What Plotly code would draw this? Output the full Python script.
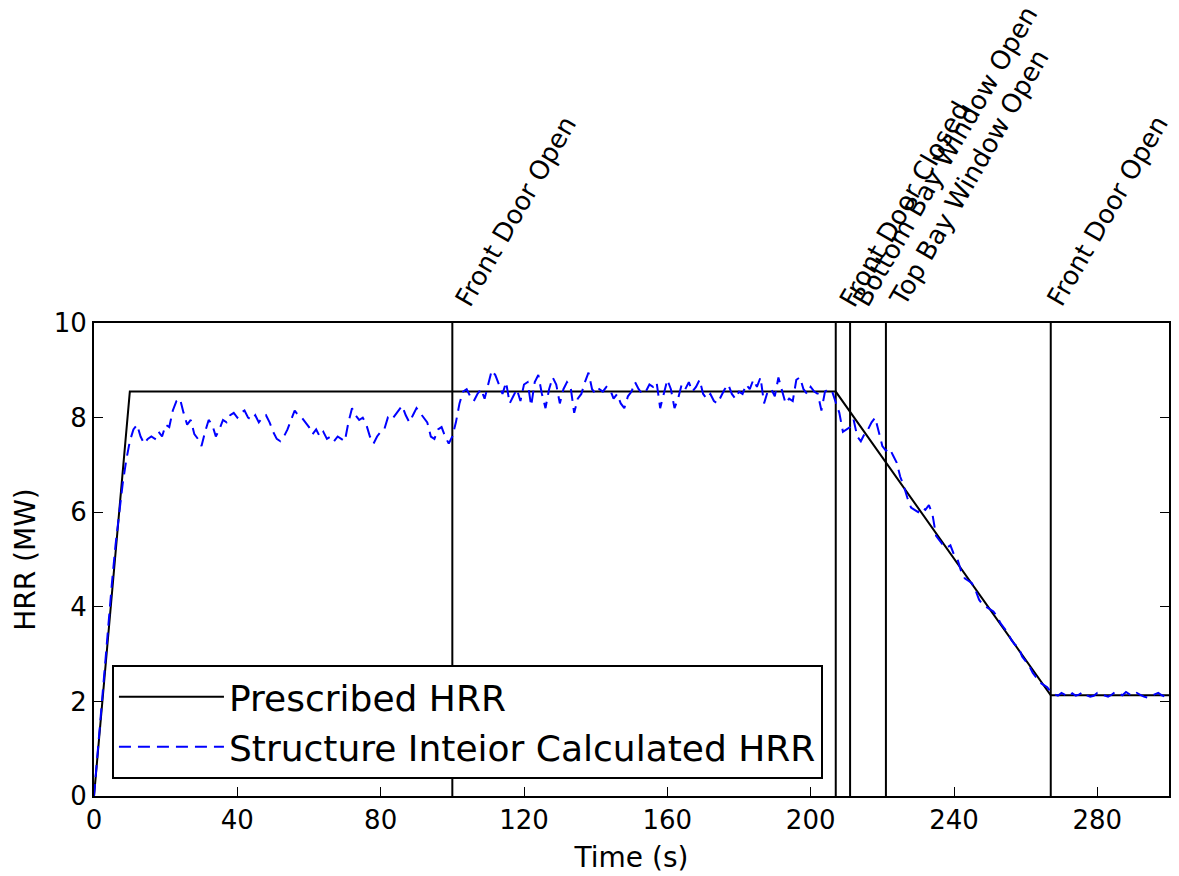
import plotly.graph_objects as go

# Prescribed HRR (piecewise linear)
presc_t = [0, 10, 207, 267, 300]
presc_hrr = [0.0, 8.55, 8.55, 2.13, 2.13]

# Calculated HRR, 1 s sampling
calc_t = list(range(0, 301))
calc_hrr = [
    0.0, 0.9, 1.8, 2.8, 3.7, 4.5, 5.3, 6.0, 6.6, 7.1,
    7.5, 7.75, 7.85, 7.6, 7.45, 7.55, 7.6, 7.55, 7.7, 7.6,
    7.85, 7.8, 8.15, 8.35, 8.4, 8.1, 7.85, 7.95, 7.65, 7.55,
    7.4, 7.7, 7.95, 7.85, 7.6, 7.75, 7.95, 7.9, 8.05, 8.1,
    8.0, 8.1, 8.15, 8.0, 7.95, 8.05, 7.9, 8.0, 8.05, 7.9,
    7.7, 7.55, 7.5, 7.6, 7.75, 7.95, 8.15, 8.05, 8.0, 7.9,
    7.8, 7.65, 7.75, 7.6, 7.7, 7.55, 7.6, 7.5, 7.6, 7.55,
    7.5, 7.9, 8.2, 8.05, 7.95, 8.0, 7.85, 7.6, 7.45, 7.6,
    7.7, 7.75, 8.0, 7.95, 8.05, 8.15, 8.25, 8.05, 7.9, 8.05,
    8.2, 8.1, 8.0, 7.9, 7.6, 7.55, 7.75, 7.8, 7.6, 7.45,
    7.6, 7.9, 8.3, 8.55, 8.6, 8.45, 8.35, 8.5, 8.6, 8.4,
    8.7, 9.0, 8.9, 8.7, 8.5, 8.75, 8.3, 8.45, 8.6, 8.35,
    8.7, 8.75, 8.25, 8.75, 8.9, 8.5, 8.2, 8.6, 8.85, 8.7,
    8.3, 8.6, 8.75, 8.65, 8.1, 8.4, 8.5, 8.75, 8.95, 8.6,
    8.5, 8.6, 8.55, 8.65, 8.6, 8.4, 8.5, 8.3, 8.2, 8.45,
    8.55, 8.75, 8.6, 8.5, 8.55, 8.7, 8.65, 8.75, 8.2, 8.5,
    8.8, 8.6, 8.2, 8.4, 8.7, 8.6, 8.75, 8.55, 8.65, 8.8,
    8.5, 8.4, 8.5, 8.35, 8.3, 8.45, 8.6, 8.7, 8.5, 8.4,
    8.55, 8.5, 8.7, 8.6, 8.8, 8.65, 8.85, 8.3, 8.55, 8.6,
    8.45, 8.85, 8.6, 8.3, 8.4, 8.35, 8.8, 8.85, 8.6, 8.5,
    8.65, 8.55, 8.5, 8.15, 8.55, 8.6, 8.55, 8.3, 8.1, 7.7,
    7.75, 7.8, 7.95, 7.6, 7.5, 7.65, 7.75, 7.9, 8.0, 7.7,
    7.4, 7.3, 7.35, 7.2, 7.05, 6.75, 6.55, 6.3, 6.1, 6.05,
    6.0, 6.1, 6.05, 6.15, 5.95, 5.5, 5.4, 5.3, 5.25, 5.3,
    5.1, 5.0, 4.75, 4.6, 4.55, 4.5, 4.35, 4.15, 4.05, 4.0,
    3.95, 3.9, 3.8, 3.65, 3.55, 3.45, 3.3, 3.2, 3.15, 2.95,
    2.85, 2.75, 2.6, 2.5, 2.4, 2.35, 2.3, 2.2, 2.15, 2.12,
    2.18, 2.14, 2.1, 2.17, 2.12, 2.15, 2.2, 2.13, 2.1, 2.12,
    2.18, 2.15, 2.12, 2.1, 2.14, 2.2, 2.16, 2.13, 2.2, 2.15,
    2.12, 2.18, 2.14, 2.1, 2.08, 2.12, 2.15, 2.18, 2.13, 2.1,
    2.12,
]

# Events
event_t = [100, 207, 211, 221, 267]
event_labels = ["Front Door Open", "Front Door Closed", "Bottom Bay Window Open",
                "Top Bay Window Open", "Front Door Open"]

x_ticks = [0, 40, 80, 120, 160, 200, 240, 280]
y_ticks = [0, 2, 4, 6, 8, 10]

FONT = "DejaVu Sans"

fig = go.Figure()

for t in event_t:
    fig.add_trace(go.Scatter(x=[t, t], y=[0, 10], mode="lines",
                             line=dict(color="black", width=2),
                             showlegend=False, hoverinfo="skip"))

fig.add_trace(go.Scatter(x=presc_t, y=presc_hrr, mode="lines",
                         name="Prescribed HRR",
                         line=dict(color="black", width=2)))
fig.add_trace(go.Scatter(x=calc_t, y=calc_hrr, mode="lines",
                         name="Structure Inteior Calculated HRR",
                         line=dict(color="blue", width=2, dash="12px,7px")))

for i, (t, lab) in enumerate(zip(event_t, event_labels)):
    last = i == len(event_t) - 1
    fig.add_annotation(x=t, y=10, xref="x", yref="y", text=lab,
                       textangle=-60, showarrow=False,
                       xanchor="left", yanchor="bottom",
                       xshift=-11 if last else -4, yshift=10, borderpad=0,
                       font=dict(family=FONT, size=26, color="black"))

fig.update_layout(
    width=1179, height=876,
    margin=dict(l=94, r=8, t=323, b=78),
    paper_bgcolor="white", plot_bgcolor="white",
    font=dict(family=FONT, color="black"),
    showlegend=True,
    legend=dict(x=0.0167, y=0.036, xanchor="left", yanchor="bottom",
                bgcolor="white", bordercolor="black", borderwidth=2,
                font=dict(family=FONT, size=36, color="black"),
                itemwidth=105, tracegroupgap=0),
    xaxis=dict(range=[0, 300], tickvals=x_ticks, ticktext=[str(v) for v in x_ticks],
               showgrid=False, zeroline=False, showline=True, linecolor="black",
               linewidth=2, mirror=True, ticks="inside", ticklen=9, tickwidth=1,
               tickcolor="black", tickfont=dict(size=26),
               title=dict(text="Time (s)", font=dict(size=28), standoff=13)),
    yaxis=dict(range=[0, 10], tickvals=y_ticks, ticktext=[str(v) for v in y_ticks],
               showgrid=False, zeroline=False, showline=True, linecolor="black",
               linewidth=2, mirror="ticks", ticks="inside", ticklen=9, tickwidth=1,
               tickcolor="black", tickfont=dict(size=26),
               title=dict(text="HRR (MW)", font=dict(size=28), standoff=10)),
)

fig.write_html("out.html")
